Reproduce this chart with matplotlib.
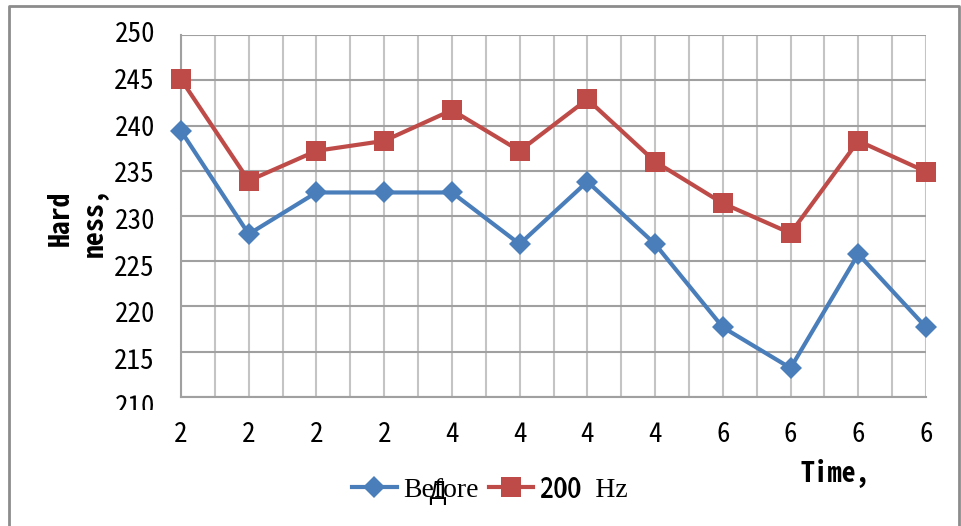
import numpy as np
import matplotlib
matplotlib.use('Agg')
import matplotlib.pyplot as plt
import matplotlib.transforms as mtransforms
from matplotlib.lines import Line2D

# данные
x_labels = ['2', '2', '2', '2', '4', '4', '4', '4', '6', '6', '6', '6']
before = [239.4, 228.0, 232.6, 232.6, 232.6, 226.9, 233.8, 226.9, 217.7, 213.2, 225.8, 217.7]
hz200 = [245.1, 233.9, 237.2, 238.3, 241.7, 237.2, 242.9, 236.0, 231.4, 228.1, 238.3, 234.9]
y_ticks = [250, 245, 240, 235, 230, 225, 220, 215, 210]

mono = ['Noto Sans Mono CJK JP', 'DejaVu Sans Mono']
serif = ['Liberation Serif', 'DejaVu Serif']

W, H = 961, 526
fig = plt.figure(figsize=(W / 100, H / 100), dpi=100)
ax = fig.add_axes([181 / W, 1 - 397 / H, (926 - 181) / W, (397 - 35) / H])

x = np.arange(len(x_labels))
ax.plot(x, before, color='#4a7ebb', lw=3, marker='D', ms=11, mew=0, label='Before', zorder=3, clip_on=False)
ax.plot(x, hz200, color='#be4b48', lw=3, marker='s', ms=15, mew=0, label='200  Hz', zorder=3, clip_on=False)

ax.set_xlim(0, len(x_labels) - 1)
ax.set_ylim(210, 250)

# сетка
for v in np.arange(0, len(x_labels) - 0.5, 0.5):
    ax.axvline(v, color='#c4c4c4', lw=1.5, zorder=1)
for v in y_ticks:
    ax.axhline(v, color='#a0a0a0', lw=1.5, zorder=1)

for s in ['top', 'right']:
    ax.spines[s].set_visible(False)
for s in ['left', 'bottom']:
    ax.spines[s].set_color('#a0a0a0')
    ax.spines[s].set_linewidth(1.5)

ax.set_xticks(x)
ax.set_xticklabels(x_labels, family=mono, fontsize=19.5)
ax.tick_params(axis='x', length=0, pad=17)
ax.set_yticks([])

# подписи оси y чуть растянуты, как в оригинале
ytr = mtransforms.offset_copy(ax.get_yaxis_transform(), fig=fig, x=-26, y=0, units='dots')
clip = mtransforms.TransformedBbox(mtransforms.Bbox([[0, 1 - 410 / H], [1, 1]]), fig.transFigure)
for v in y_ticks:
    t = ax.text(0, 250 - (250 - v) * 1.03, str(v), transform=ytr, ha='right', va='center',
                family=mono, fontsize=19.5, clip_on=True)
    t.set_clip_box(clip)

fig.text(60 / W, 1 - 218 / H, 'Hard', rotation=90, ha='center', va='center',
         family=mono, fontsize=20, fontweight='bold')
fig.text(95 / W, 1 - 222 / H, 'ness,', rotation=90, ha='center', va='center',
         family=mono, fontsize=20, fontweight='bold')
fig.text(835 / W, 1 - 473 / H, 'Time,', ha='center', va='center',
         family=mono, fontsize=20, fontweight='bold')

fig.legend(loc='center', bbox_to_anchor=(490 / W, 1 - 490 / H), ncol=2, frameon=False,
           prop={'family': serif, 'size': 20}, handlelength=1.6, handletextpad=0.25,
           columnspacing=0.35)
fig.text(437 / W, 1 - 499 / H, 'Д', ha='center', va='baseline', family=['Noto Sans CJK JP'], fontsize=18)
fig.text(561 / W, 1 - 498 / H, '200', ha='center', va='baseline', family=mono, fontsize=20)

# рамка
fig.add_artist(Line2D([9 / W, 9 / W, 959 / W, 959 / W], [0, 1 - 6 / H, 1 - 6 / H, 0],
                      transform=fig.transFigure, color='#8c8c8c', lw=2))

fig.savefig('out.png', dpi=100)
